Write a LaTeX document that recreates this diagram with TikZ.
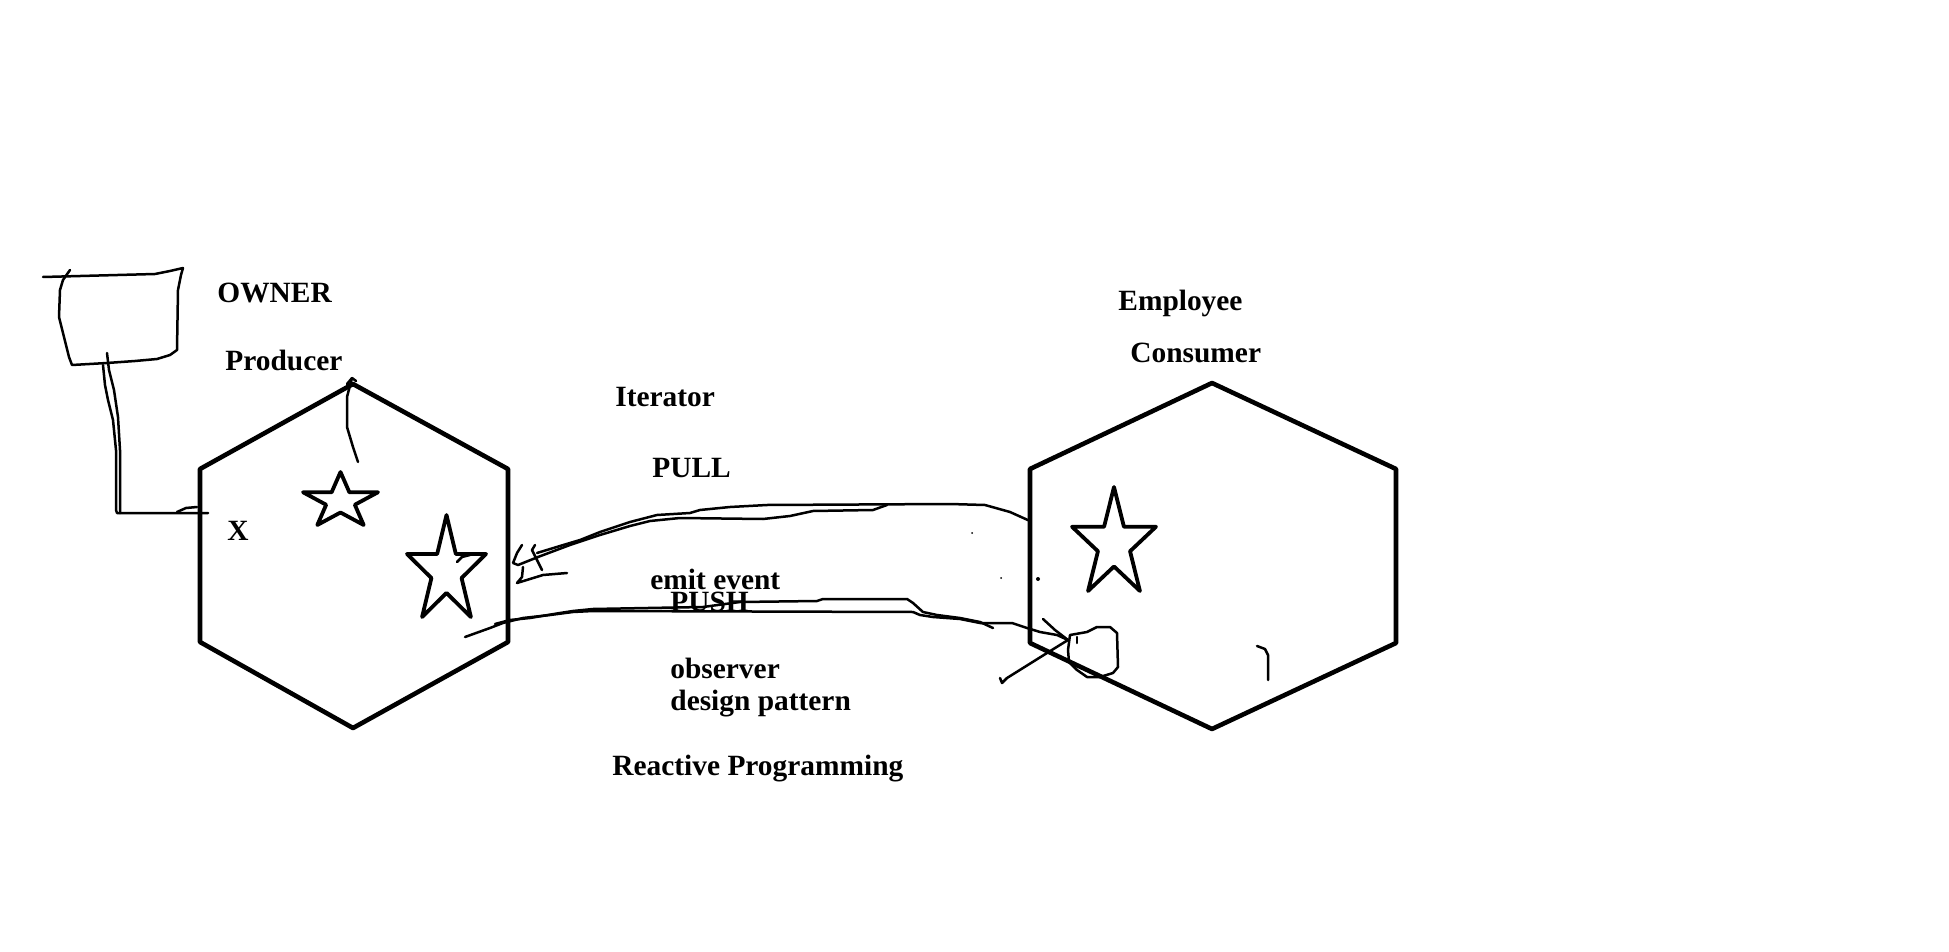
\documentclass[tikz,border=0pt]{standalone}
\usepackage{fontspec}
\setmainfont{Liberation Serif}
\usetikzlibrary{positioning}

% star drawn into a box: left x, top y, width, height
\newcommand{\paintstar}[4]{%
  \draw[starline, shift={(#1,#2)}, xscale=#3, yscale=#4]
    (0.5,0) -- (0.618,0.382) -- (1,0.382) -- (0.691,0.618) -- (0.809,1) -- (0.5,0.764)
    -- (0.191,1) -- (0.309,0.618) -- (0,0.382) -- (0.382,0.382) -- cycle;}

\begin{document}
\begin{tikzpicture}[x=0.5pt, y=-0.5pt, line join=round, line cap=round,
   hexline/.style={line width=2.3pt},
   starline/.style={line width=1.9pt},
   sketch/.style={line width=1.25pt},
   lbl/.style={font=\bfseries\fontsize{14.7}{17}\selectfont, inner sep=0pt, anchor=base west}]
  \useasboundingbox (0,0) rectangle (1949,952);

  % producer hexagon
  \coordinate (pT) at (353,384); \coordinate (pUR) at (508,469); \coordinate (pLR) at (508,642);
  \coordinate (pB) at (353,728); \coordinate (pLL) at (200,642); \coordinate (pUL) at (200,469);
  \draw[hexline] (pT) -- (pUR) -- (pLR) -- (pB) -- (pLL) -- (pUL) -- cycle;
  % consumer hexagon
  \coordinate (cT) at (1212,383); \coordinate (cUR) at (1396,469); \coordinate (cLR) at (1396,643);
  \coordinate (cB) at (1212,729); \coordinate (cLL) at (1030,643); \coordinate (cUL) at (1030,469);
  \draw[hexline] (cT) -- (cUR) -- (cLR) -- (cB) -- (cLL) -- (cUL) -- cycle;

  \paintstar{303}{472}{75}{53}
  \paintstar{407}{515}{79}{102}
  \paintstar{1072}{487}{84}{104}

  % labels
  \node[lbl] (owner) at (217,303) {OWNER};
  \node[lbl] (producer) at (225,370) {Producer};
  \node[lbl] (xmark) at (227,540) {X};
  \node[lbl] (iterator) at (615,406) {Iterator};
  \node[lbl] (pull) at (652,477) {PULL};
  \node[lbl] (emit) at (650,589) {emit event};
  \node[lbl] (push) at (670,611) {PUSH};
  \node[lbl] (observer) at (670,678) {observer};
  \node[lbl] (design) at (670,710) {design pattern};
  \node[lbl] (reactive) at (612,775) {Reactive Programming};
  \node[lbl] (employee) at (1118,311) {Employee};
  \node[lbl] (consumer) at (1130,362) {Consumer};

  % owner box and its line down to the hexagon
  \coordinate (boxtop) at (43,277); \coordinate (boxfoot) at (107,353); \coordinate (xin) at (208,513);
  \draw[sketch] (boxtop) -- (155,274) -- (170,271) -- (183,268) -- (181,275) -- (178,290) -- (177,350)
    -- (170,355) -- (157,359) -- (135,361) -- (107,363) -- (72,365) -- (69,357) -- (63,333)
    -- (59,317) -- (60,290) -- (63,280) -- (70,270);
  \draw[sketch] (boxfoot) -- (109,370) -- (114,390) -- (118,417) -- (120,450) -- (120,513);
  \draw[sketch] (103,365) -- (105,385) -- (108,400) -- (113,420) -- (116,450) -- (116,510) -- (117,513) -- (xin);
  \draw[sketch] (177,512) -- (186,508) -- (197,507);
  \draw[sketch] (pT) ++(-1,-6) -- ++(-5,19) -- (347,427) -- (353,447) -- (358,462);
  \draw[sketch] (347,384) -- (352,378) -- (356,381);
  \draw[sketch] (457,562) -- (462,557) -- (470,555);

  % PULL
  \coordinate (pullL) at (537,553); \coordinate (pullR) at (1030,521);
  \draw[sketch] (pullL) -- (560,546) -- (580,540) -- (600,532) -- (630,522) -- (657,515) -- (690,513)
    -- (700,510) -- (730,507) -- (767,505) -- (950,504) -- (985,505) -- (1010,512) -- (pullR);
  \draw[sketch] (538,557) -- (570,545) -- (600,535) -- (630,526) -- (650,521) -- (680,518) -- (763,519)
    -- (790,516) -- (813,511) -- (873,510) -- (887,505);
  \draw[sketch] (522,545) -- (517,553) -- (513,563) -- (518,565) -- (523,563) -- (538,557);
  \draw[sketch] (535,545) -- (532,550) -- (537,560) -- (542,570);
  \draw[sketch] (523,567) -- (522,577) -- (517,583) -- (543,575) -- (567,573);

  % PUSH
  \coordinate (pushL) at (465,637); \coordinate (pushR) at (1068,640);
  \draw[sketch] (pushL) -- (490,628) -- (503,623) -- (523,618) -- (550,615) -- (573,612) -- (593,611)
    -- (913,612) -- (920,615) -- (933,617) -- (960,619) -- (980,623) -- (1012,623) -- (1027,628)
    -- (1040,632) -- (1057,635) -- (pushR);
  \draw[sketch] (495,624) -- (510,620) -- (530,618) -- (560,613) -- (573,611) -- (593,609) -- (703,607)
    -- (740,602) -- (817,601) -- (823,599) -- (907,599) -- (913,603) -- (923,612) -- (937,615)
    -- (960,618) -- (980,622) -- (993,628);
  \draw[sketch] (1043,619) -- (1055,630) -- (pushR) -- (1047,653) -- (1023,668) -- (1007,678)
    -- (1002,683) -- (1000,678);
  \draw[sketch] (1070,635) -- (1068,650) -- (1069,662) -- (1077,670) -- (1087,677) -- (1100,677)
    -- (1113,673) -- (1118,667) -- (1117,633) -- (1110,627) -- (1097,627) -- (1087,632) -- (1070,635);
  \draw[sketch] (1077,637) -- (1077,643);

  % marks inside the consumer
  \draw[sketch] (1257,646) -- (1265,649) -- (1268,655) -- (1268,680);
  \fill (972,533) circle (1); \fill (1001,578) circle (1); \fill (1038,579) circle (2);
\end{tikzpicture}
\end{document}
